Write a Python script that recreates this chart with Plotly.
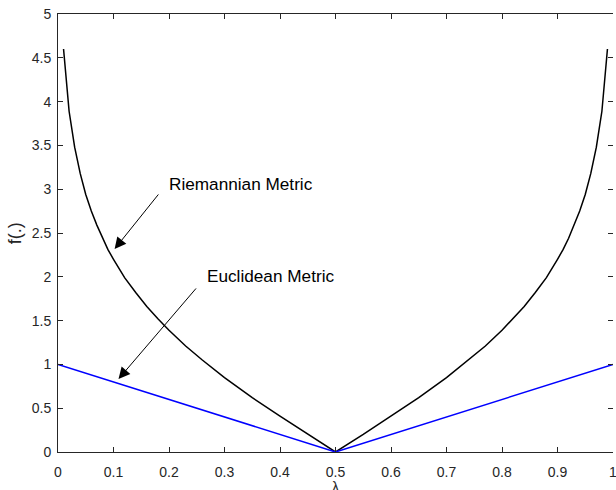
import plotly.graph_objects as go

# Riemannian metric curve
lam_r = [0.01, 0.02, 0.03, 0.04, 0.05, 0.06, 0.07, 0.08, 0.09, 0.10, 0.12, 0.14, 0.16, 0.18,
         0.20, 0.23, 0.26, 0.30, 0.35, 0.40, 0.45, 0.50,
         0.55, 0.60, 0.65, 0.70, 0.74, 0.77, 0.80, 0.82, 0.84, 0.86, 0.88, 0.90, 0.91,
         0.92, 0.93, 0.94, 0.95, 0.96, 0.97, 0.98, 0.99]
f_riem = [4.60, 3.89, 3.48, 3.18, 2.94, 2.75, 2.59, 2.44, 2.31, 2.20, 1.99, 1.82, 1.66, 1.52,
          1.39, 1.21, 1.05, 0.85, 0.62, 0.41, 0.20, 0.00,
          0.20, 0.41, 0.62, 0.85, 1.05, 1.21, 1.39, 1.52, 1.66, 1.82, 1.99, 2.20, 2.31,
          2.44, 2.59, 2.75, 2.94, 3.18, 3.48, 3.89, 4.60]

# Euclidean metric line
lam_e = [0.0, 0.5, 1.0]
f_eucl = [1.0, 0.0, 1.0]

x_ticks = [0, 0.1, 0.2, 0.3, 0.4, 0.5, 0.6, 0.7, 0.8, 0.9, 1]
x_tick_text = ["0", "0.1", "0.2", "0.3", "0.4", "0.5", "0.6", "0.7", "0.8", "0.9", "1"]
y_ticks = [0, 0.5, 1, 1.5, 2, 2.5, 3, 3.5, 4, 4.5, 5]
y_tick_text = ["0", "0.5", "1", "1.5", "2", "2.5", "3", "3.5", "4", "4.5", "5"]

FONT = "Liberation Sans, Arial, Helvetica, sans-serif"
AX = "#262626"

fig = go.Figure()
fig.add_trace(go.Scatter(x=lam_r, y=f_riem, mode="lines", name="Riemannian Metric",
                         line=dict(color="#000000", width=1.5)))
fig.add_trace(go.Scatter(x=lam_e, y=f_eucl, mode="lines", name="Euclidean Metric",
                         line=dict(color="#0000ff", width=1.5)))
# invisible copy on a right-hand axis, so the right side shows tick marks only (no box line)
fig.add_trace(go.Scatter(x=lam_e, y=f_eucl, mode="lines", yaxis="y2", opacity=0,
                         hoverinfo="skip", showlegend=False, line=dict(width=0)))

common = dict(showgrid=False, zeroline=False, ticks="inside", ticklen=5, tickwidth=1,
              tickcolor=AX, ticklabeloverflow="allow",
              tickfont=dict(family=FONT, size=14, color=AX))
fig.update_layout(
    xaxis=dict(range=[0, 1], tickvals=x_ticks, ticktext=x_tick_text, ticklabelstandoff=7,
               showline=True, linecolor=AX, linewidth=1, mirror="ticks", **common),
    yaxis=dict(range=[0, 5], tickvals=y_ticks, ticktext=y_tick_text, ticklabelstandoff=3,
               showline=True, linecolor=AX, linewidth=1, mirror=False, **common),
    yaxis2=dict(range=[0, 5], tickvals=y_ticks, showticklabels=False, overlaying="y",
                side="right", showline=False, **common),
)

annots = [
    dict(x=0.102, y=2.317, ax=0.183, ay=2.957, xref="x", yref="y", axref="x", ayref="y",
         text="", showarrow=True, arrowhead=2, arrowsize=2.3, arrowwidth=1, arrowcolor="#000000",
         standoff=0, startstandoff=0),
    dict(x=0.109, y=0.833, ax=0.251, ay=1.884, xref="x", yref="y", axref="x", ayref="y",
         text="", showarrow=True, arrowhead=2, arrowsize=2.3, arrowwidth=1, arrowcolor="#000000",
         standoff=0, startstandoff=0),
    dict(x=0.197, y=3.06, xref="x", yref="y", text="Riemannian Metric", showarrow=False,
         xanchor="left", yanchor="middle", font=dict(family=FONT, size=17.2, color="#000000")),
    dict(x=0.264, y=2.01, xref="x", yref="y", text="Euclidean Metric", showarrow=False,
         xanchor="left", yanchor="middle", font=dict(family=FONT, size=17.2, color="#000000")),
    dict(x=0.5, y=-0.08, xref="paper", yref="paper", text="λ", showarrow=False,
         xanchor="center", yanchor="middle", font=dict(family=FONT, size=14, color=AX)),
    dict(x=-0.077, y=0.5, xref="paper", yref="paper", text="f(.)", showarrow=False,
         textangle=-90, xanchor="center", yanchor="middle", font=dict(family=FONT, size=18, color=AX)),
]

fig.update_layout(width=617, height=490, margin=dict(l=58, r=0, t=14, b=38, pad=0),
                  paper_bgcolor="white", plot_bgcolor="white", showlegend=False,
                  annotations=annots, font=dict(family=FONT))

# remove the default page margin so the figure sits at the window's top-left corner
fig.write_html("out.html", config={"displayModeBar": False},
               post_script="document.body.style.margin='0';"
                           "document.body.style.overflow='hidden';"
                           "document.documentElement.style.overflow='hidden';")
